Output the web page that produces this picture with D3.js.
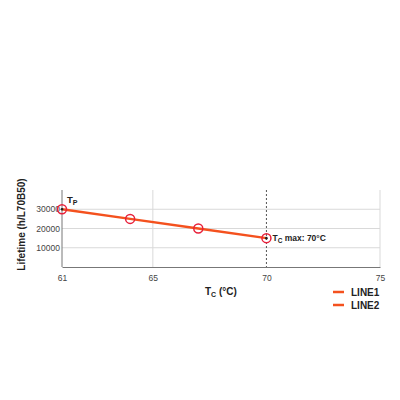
<!DOCTYPE html>
<html>
<head>
<meta charset="utf-8">
<script src="https://cdn.jsdelivr.net/npm/d3@7"></script>
<style>
  body { margin: 0; background: #fff; }
  svg { font-family: "Liberation Sans", Arial, sans-serif; }
  .grid line { stroke: #d9d9d9; stroke-width: 1; }
  .axis text { fill: #444; font-size: 8.5px; }
  .axis path, .axis line { stroke: #777; }
  .title { font-weight: bold; fill: #222; font-size: 9px; }
</style>
</head>
<body>
<div id="chart"></div>
<script>
// data
var temps = [61, 64, 67, 70];
var lifetimes = [30000, 25000, 20000, 15000];
var xTicks = [61, 65, 70, 75];
var yTicks = [10000, 20000, 30000];
var seriesNames = ["LINE1", "LINE2"];

var margin = { top: 190, right: 20, bottom: 133, left: 62 };
var width = 400 - margin.left - margin.right;
var height = 400 - margin.top - margin.bottom;

var svg = d3.select("#chart").append("svg")
    .attr("width", 400)
    .attr("height", 400)
    .append("g")
    .attr("transform", "translate(" + margin.left + "," + margin.top + ")");

var x = d3.scaleLinear().domain([61, 75]).range([0, width]);
var y = d3.scaleLinear().domain([0, 40000]).range([height, 0]);

// grid
var grid = svg.append("g").attr("class", "grid");
grid.selectAll(".h").data(yTicks).enter().append("line")
    .attr("x1", 0).attr("x2", width)
    .attr("y1", d => y(d)).attr("y2", d => y(d));
grid.selectAll(".v").data([65, 75]).enter().append("line")
    .attr("x1", d => x(d)).attr("x2", d => x(d))
    .attr("y1", 0).attr("y2", height);

// Tc max dashed line
svg.append("line")
    .attr("x1", x(70)).attr("x2", x(70))
    .attr("y1", 0).attr("y2", height)
    .attr("stroke", "#555")
    .style("stroke-dasharray", "2,2");

// axes
var xAxis = d3.axisBottom(x).tickValues(xTicks).tickSize(0).tickPadding(8);
var yAxis = d3.axisLeft(y).tickValues(yTicks).tickFormat(d3.format("d")).tickSize(0).tickPadding(2);

var xAxisG = svg.append("g").attr("class", "axis")
    .attr("transform", "translate(0," + height + ")")
    .call(xAxis);

var yAxisG = svg.append("g").attr("class", "axis").call(yAxis);
yAxisG.select(".domain").attr("d", "M0,0V" + height);

// line
var pts = temps.map((t, i) => ({ t: t, v: lifetimes[i] }));
var line = d3.line().x(d => x(d.t)).y(d => y(d.v));

svg.append("path")
    .datum(pts)
    .attr("fill", "none")
    .attr("stroke", "#f4511e")
    .attr("stroke-width", 2.5)
    .attr("d", line);

svg.selectAll(".pt").data(pts).enter().append("circle")
    .attr("cx", d => x(d.t))
    .attr("cy", d => y(d.v))
    .attr("r", 4.5)
    .attr("fill", "none")
    .attr("stroke", "#e8203a")
    .attr("stroke-width", 1.5);

// dots at first and last points
svg.selectAll(".dot").data([pts[0], pts[pts.length - 1]]).enter().append("circle")
    .attr("cx", d => x(d.t))
    .attr("cy", d => y(d.v))
    .attr("r", 1.3)
    .attr("fill", "#222");

// annotations
var tp = svg.append("text")
    .attr("class", "title")
    .attr("x", x(61) + 5)
    .attr("y", y(30000) - 6)
    .style("font-size", "9.5px")
    .text("T");
tp.append("tspan").attr("dy", 2).style("font-size", "7px").text("P");

var tc = svg.append("text")
    .attr("class", "title")
    .attr("x", x(70) + 6)
    .attr("y", y(15000) + 3)
    .style("font-size", "8.5px")
    .text("T");
tc.append("tspan").attr("dy", 2).style("font-size", "6.5px").text("C");
tc.append("tspan").attr("dy", -2).text(" max: 70°C");

// axis titles
var xt = svg.append("text")
    .attr("class", "title")
    .attr("x", 143)
    .attr("y", height + 28)
    .style("font-size", "10px")
    .text("T");
xt.append("tspan").attr("dy", 2).style("font-size", "7px").text("C");
xt.append("tspan").attr("dy", -2).text(" (°C)");

svg.append("text")
    .attr("class", "title")
    .attr("transform", "rotate(-90)")
    .attr("x", -height / 2 + 4)
    .attr("y", -37)
    .style("text-anchor", "middle")
    .style("font-size", "10px")
    .text("Lifetime (h/L70B50)");

// legend
var legend = svg.selectAll(".legend").data(seriesNames).enter().append("g")
    .attr("transform", (d, i) => "translate(271," + (height + 25 + i * 13) + ")");
legend.append("line")
    .attr("x1", 0).attr("x2", 11)
    .attr("stroke", "#f4511e")
    .attr("stroke-width", 2.5);
legend.append("text")
    .attr("class", "title")
    .attr("x", 18)
    .attr("y", 3.5)
    .style("font-size", "10px")
    .text(d => d);
</script>
</body>
</html>
